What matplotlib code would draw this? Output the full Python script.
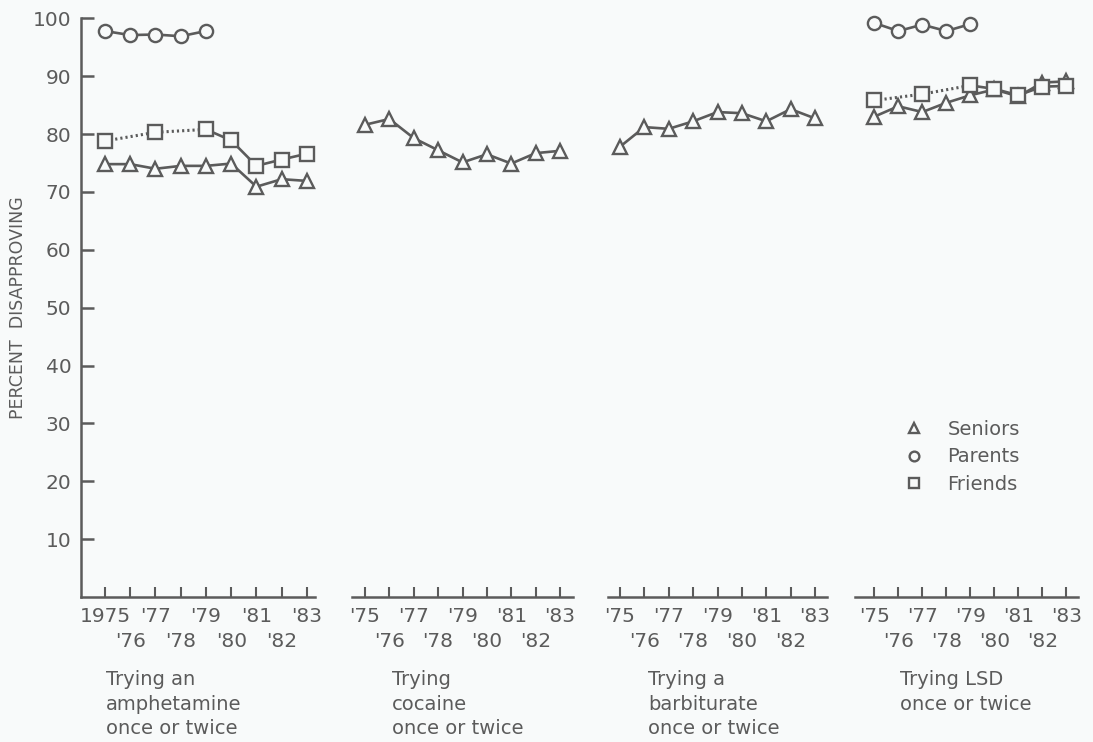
import numpy as np
import matplotlib.pyplot as plt
from matplotlib.lines import Line2D

nan = np.nan

# Survey years shown on every panel
years = np.arange(1975, 1984)

# Percent disapproving: trying an amphetamine once or twice
amph_seniors = [74.8, 74.8, 74.0, 74.5, 74.5, 74.9, 70.9, 72.2, 71.9]
amph_parents = [97.8, 97.1, 97.2, 96.9, 97.8, nan, nan, nan, nan]
amph_friends = [78.8, nan, 80.3, nan, 80.8, 78.9, 74.5, 75.6, 76.6]

# Trying cocaine once or twice
coke_seniors = [81.6, 82.6, 79.3, 77.2, 75.1, 76.5, 74.9, 76.7, 77.1]

# Trying a barbiturate once or twice
barb_seniors = [77.8, 81.2, 80.9, 82.2, 83.8, 83.6, 82.2, 84.3, 82.7]

# Trying LSD once or twice
lsd_seniors = [83.0, 84.8, 83.8, 85.4, 86.7, 87.7, 86.5, 88.9, 89.1]
lsd_parents = [99.2, 97.8, 98.9, 97.8, 99.0, nan, nan, nan, nan]
lsd_friends = [85.8, nan, 86.9, nan, 88.4, 87.8, 86.7, 88.2, 88.3]

captions = [
    ["Trying an", "amphetamine", "once or twice"],
    ["Trying", "cocaine", "once or twice"],
    ["Trying a", "barbiturate", "once or twice"],
    ["Trying LSD", "once or twice"],
]
y_ticks = [10, 20, 30, 40, 50, 60, 70, 80, 90, 100]
series_names = ["Seniors", "Parents", "Friends"]

INK = "#5b5b5b"
BG = "#f8fafa"
W, H = 1093, 742

plt.rcParams["font.family"] = ["DejaVu Sans"]

fig = plt.figure(figsize=(W / 100, H / 100), dpi=100, facecolor=BG)

y_bottom_px, y_top_px = 597, 18.3
# (left px, right px, xmin, xmax)
panels = [
    (81, 315, 1974.05, 1983.32),
    (352, 573, 1974.47, 1983.53),
    (608, 827, 1974.51, 1983.49),
    (855, 1078, 1974.2, 1983.48),
]
caption_x = [106, 392, 648, 900]

data = [
    dict(seniors=amph_seniors, parents=amph_parents, friends=amph_friends),
    dict(seniors=coke_seniors),
    dict(seniors=barb_seniors),
    dict(seniors=lsd_seniors, parents=lsd_parents, friends=lsd_friends),
]

mk = dict(markerfacecolor=BG, markeredgecolor=INK, markeredgewidth=1.7,
          markersize=9.5, clip_on=False)
line_kw = dict(color=INK, lw=1.9, clip_on=False, solid_capstyle="butt")


def plot_series(ax, vals, marker):
    v = np.array(vals, dtype=float)
    ok = ~np.isnan(v)
    ax.plot(years[ok], v[ok], linestyle="none", marker=marker, zorder=4, **mk)


for i, ((l, r, x0, x1), d) in enumerate(zip(panels, data)):
    ax = fig.add_axes([l / W, (H - y_bottom_px) / H, (r - l) / W,
                       (y_bottom_px - y_top_px) / H])
    ax.set_facecolor("none")
    ax.set_xlim(x0, x1)
    ax.set_ylim(0, 100)
    for s in ("top", "right"):
        ax.spines[s].set_visible(False)
    ax.spines["bottom"].set_color(INK)
    ax.spines["bottom"].set_linewidth(1.8)
    if i == 0:
        ax.spines["left"].set_color(INK)
        ax.spines["left"].set_linewidth(1.8)
        ax.set_yticks(y_ticks)
        ax.set_yticklabels([str(t) for t in y_ticks])
        ax.tick_params(axis="y", direction="in", length=9.5, width=1.8,
                       color=INK, labelcolor=INK, labelsize=14.5, pad=7)
        ax.set_ylabel("PERCENT  DISAPPROVING", color=INK, fontsize=12.5,
                      labelpad=4)
    else:
        ax.spines["left"].set_visible(False)
        ax.set_yticks([])

    odd = years[::2]
    even = years[1::2]
    ax.set_xticks(odd)
    first = "1975" if i == 0 else "'75"
    ax.set_xticklabels([first] + ["'" + str(y)[2:] for y in odd[1:]])
    ax.set_xticks(even, minor=True)
    ax.set_xticklabels(["'" + str(y)[2:] for y in even], minor=True)
    ax.tick_params(axis="x", which="major", direction="in", length=7.5,
                   width=1.5, color=INK, labelcolor=INK, labelsize=14.5, pad=7)
    ax.tick_params(axis="x", which="minor", direction="in", length=7.5,
                   width=1.5, color=INK, labelcolor=INK, labelsize=14.5, pad=25)

    # Seniors: solid line through every year
    s = np.array(d["seniors"], dtype=float)
    ax.plot(years, s, zorder=3, **line_kw)
    plot_series(ax, s, "^")

    if "parents" in d:
        p = np.array(d["parents"], dtype=float)
        ok = ~np.isnan(p)
        ax.plot(years[ok], p[ok], zorder=3, **line_kw)
        plot_series(ax, p, "o")

    if "friends" in d:
        f = np.array(d["friends"], dtype=float)
        # odd-year-only stretch drawn dotted, yearly stretch solid
        early = years <= 1979
        ok_e = early & ~np.isnan(f)
        ax.plot(years[ok_e], f[ok_e], color=INK, lw=2.2,
                linestyle=(0, (0.7, 1.0)), dash_capstyle="butt",
                zorder=3, clip_on=False)
        late = years >= 1979
        ax.plot(years[late], f[late], zorder=3, **line_kw)
        plot_series(ax, f, "s")

    for k, line in enumerate(captions[i]):
        fig.text(caption_x[i] / W, 1 - (685 + 24.5 * k) / H, line,
                 color=INK, fontsize=14, va="baseline", ha="left")

handles = [
    Line2D([], [], linestyle="none", marker="^", markersize=7,
           markerfacecolor=BG, markeredgecolor=INK, markeredgewidth=1.7),
    Line2D([], [], linestyle="none", marker="o", markersize=7,
           markerfacecolor=BG, markeredgecolor=INK, markeredgewidth=1.7),
    Line2D([], [], linestyle="none", marker="s", markersize=7,
           markerfacecolor=BG, markeredgecolor=INK, markeredgewidth=1.7),
]
leg = fig.legend(handles, series_names, loc="upper left",
                 bbox_to_anchor=(893 / W, 1 - 410 / H), frameon=False,
                 fontsize=14, labelcolor=INK, handlelength=1.2,
                 handletextpad=1.1, labelspacing=0.45, borderpad=0)

fig.savefig("out.png", dpi=100, facecolor=BG)
